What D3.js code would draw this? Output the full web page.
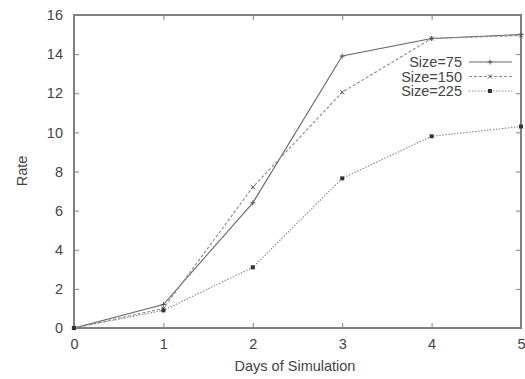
<!DOCTYPE html>
<html>
<head>
<meta charset="utf-8">
<script src="https://cdn.jsdelivr.net/npm/d3@7"></script>
<style>
  body { margin: 0; background: #fff; }
  text { font-family: "Liberation Sans", Arial, sans-serif; fill: #444; }
</style>
</head>
<body>
<svg id="chart" width="525" height="379"></svg>
<script>
// Days simulated and the rate measured for each population size
const days = [0, 1, 2, 3, 4, 5];
const size75 = [0, 1.2, 6.4, 13.9, 14.8, 15.0];
const size150 = [0, 1.0, 7.2, 12.05, 14.8, 14.95];
const size225 = [0, 0.9, 3.1, 7.65, 9.8, 10.3];
const seriesNames = ["Size=75", "Size=150", "Size=225"];
const yTicks = [0, 2, 4, 6, 8, 10, 12, 14, 16];
const xTicks = [0, 1, 2, 3, 4, 5];

const svg = d3.select("#chart");
const plotLeft = 74, plotRight = 521, plotTop = 15, plotBottom = 328;
const fontSize = 14.5;

const x = d3.scaleLinear().domain([0, 5]).range([plotLeft, plotRight]);
const y = d3.scaleLinear().domain([0, 16]).range([plotBottom, plotTop]);

const frameColor = "#808080";
const series = [
  { name: seriesNames[0], values: size75, dash: null, marker: "plus", color: "#666" },
  { name: seriesNames[1], values: size150, dash: "3,2", marker: "cross", color: "#888" },
  { name: seriesNames[2], values: size225, dash: "1.5,1.5", marker: "square", color: "#888" }
];

// Inward ticks on all four sides, gnuplot style
const axisG = svg.append("g");
const tickLen = 5;
axisG.append("g").attr("transform", `translate(0,${plotBottom})`)
  .call(d3.axisBottom(x).tickValues(xTicks).tickSizeInner(-tickLen).tickSizeOuter(0).tickPadding(11).tickFormat(d3.format("d")));
axisG.append("g").attr("transform", `translate(0,${plotTop})`)
  .call(d3.axisTop(x).tickValues(xTicks).tickSizeInner(-tickLen).tickSizeOuter(0).tickFormat(""));
axisG.append("g").attr("transform", `translate(${plotLeft},0)`)
  .call(d3.axisLeft(y).tickValues(yTicks).tickSizeInner(-tickLen).tickSizeOuter(0).tickPadding(11).tickFormat(d3.format("d")));
axisG.append("g").attr("transform", `translate(${plotRight},0)`)
  .call(d3.axisRight(y).tickValues(yTicks).tickSizeInner(-tickLen).tickSizeOuter(0).tickFormat(""));
axisG.selectAll(".domain").remove();
axisG.selectAll(".tick line").attr("stroke", frameColor).attr("stroke-width", 1);
axisG.selectAll(".tick text").attr("font-size", fontSize).attr("fill", "#444")
  .attr("font-family", "Liberation Sans, Arial, sans-serif");

svg.append("rect")
  .attr("x", plotLeft).attr("y", plotTop)
  .attr("width", plotRight - plotLeft).attr("height", plotBottom - plotTop)
  .attr("fill", "none").attr("stroke", frameColor).attr("stroke-width", 2);

// Axis titles
svg.append("text")
  .attr("x", 295).attr("y", 371)
  .attr("text-anchor", "middle").attr("font-size", fontSize)
  .text("Days of Simulation");
svg.append("text")
  .attr("transform", `translate(27,171) rotate(-90)`)
  .attr("text-anchor", "middle").attr("font-size", fontSize)
  .text("Rate");

function drawMarker(g, cx, cy, kind, color) {
  if (kind === "plus") {
    g.append("path").attr("d", `M${cx - 2.5},${cy}H${cx + 2.5}M${cx},${cy - 2.5}V${cy + 2.5}`)
      .attr("stroke", "#555").attr("stroke-width", 1);
  } else if (kind === "cross") {
    g.append("path").attr("d", `M${cx - 2},${cy - 2}L${cx + 2},${cy + 2}M${cx - 2},${cy + 2}L${cx + 2},${cy - 2}`)
      .attr("stroke", "#555").attr("stroke-width", 1);
  } else {
    g.append("rect").attr("x", cx - 2).attr("y", cy - 2).attr("width", 4).attr("height", 4)
      .attr("fill", "#333");
  }
}

const line = d3.line().x((d, i) => x(days[i])).y(d => y(d));

series.forEach(s => {
  const g = svg.append("g");
  g.append("path").datum(s.values)
    .attr("d", line).attr("fill", "none")
    .attr("stroke", s.color).attr("stroke-width", 1.1)
    .attr("stroke-dasharray", s.dash);
  s.values.forEach((v, i) => drawMarker(g, x(days[i]), y(v), s.marker, s.color));
});

// Legend
const legend = svg.append("g");
const legendRows = [62, 76.5, 91];
series.forEach((s, i) => {
  const ly = legendRows[i];
  legend.append("text").attr("x", 462).attr("y", ly + 5)
    .attr("text-anchor", "end").attr("font-size", fontSize).text(s.name);
  legend.append("line").attr("x1", 469).attr("x2", 512).attr("y1", ly).attr("y2", ly)
    .attr("stroke", s.color).attr("stroke-width", 1.1).attr("stroke-dasharray", s.dash);
  drawMarker(legend, 490, ly, s.marker, s.color);
});
</script>
</body>
</html>
